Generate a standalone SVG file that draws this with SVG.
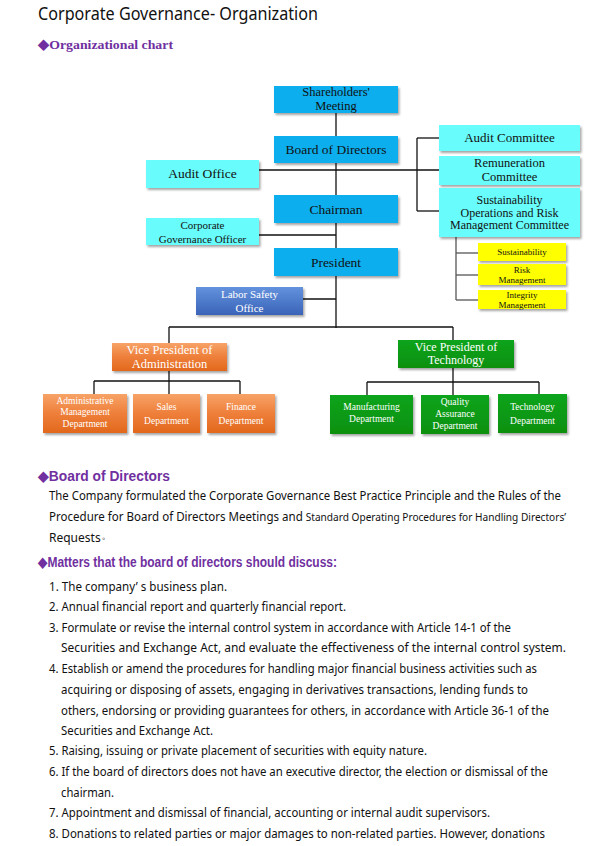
<svg xmlns="http://www.w3.org/2000/svg" width="600" height="846" viewBox="0 0 600 846">
<defs>
<filter id="sh" x="-10%" y="-10%" width="130%" height="140%">
<feDropShadow dx="1.5" dy="2" stdDeviation="1" flood-color="#000" flood-opacity="0.35"/>
</filter>
<linearGradient id="gOr" x1="0" y1="0" x2="0" y2="1"><stop offset="0" stop-color="#F7A367"/><stop offset="0.5" stop-color="#EE7F3A"/><stop offset="1" stop-color="#E2681C"/></linearGradient>
<linearGradient id="gGr" x1="0" y1="0" x2="0" y2="1"><stop offset="0" stop-color="#10A41C"/><stop offset="1" stop-color="#08900F"/></linearGradient>
<linearGradient id="gBl" x1="0" y1="0" x2="0" y2="1"><stop offset="0" stop-color="#6392DD"/><stop offset="1" stop-color="#3A63B8"/></linearGradient>
</defs>
<style>
.sky{fill:#0BAEEE;filter:url(#sh)}
.cy{fill:#69FCFC;filter:url(#sh)}
.ye{fill:#FFFF00;filter:url(#sh)}
.or{fill:url(#gOr);filter:url(#sh)}
.gr{fill:url(#gGr);filter:url(#sh)}
.bl{fill:url(#gBl);filter:url(#sh)}
.t{font-family:"Liberation Serif","Times New Roman",serif;text-anchor:middle;fill:#111}
.w{fill:#fff}
.c line{stroke:#111;stroke-width:1.3}
.c .g{stroke:#555}
.body{font-family:"Noto Sans","Open Sans",sans-serif;font-size:12px;fill:#111}
.hd{font-family:"Liberation Sans",Arial,sans-serif;font-weight:bold;fill:#7030A0}
</style>
<rect width="600" height="846" fill="#fff"/>
<text x="38" y="20" font-family="Noto Sans, Open Sans, sans-serif" font-size="18" fill="#111" textLength="280" lengthAdjust="spacingAndGlyphs">Corporate Governance- Organization</text>
<text x="38" y="49" font-family="Liberation Serif, serif" font-weight="bold" font-size="13.5" fill="#7030A0" textLength="135" lengthAdjust="spacingAndGlyphs">◆Organizational chart</text>

<g class="c" id="connectors">
<line x1="336" y1="113" x2="336" y2="328"/>
<line x1="259" y1="170" x2="440" y2="170"/>
<line x1="417" y1="138" x2="417" y2="211"/>
<line x1="417" y1="138" x2="440" y2="138"/>
<line x1="417" y1="211" x2="440" y2="211"/>
<line x1="259" y1="235" x2="336" y2="235"/>
<line x1="303" y1="299" x2="336" y2="299"/>
<line x1="169" y1="327" x2="453" y2="327"/>
<line x1="169" y1="327" x2="169" y2="343"/>
<line x1="453" y1="327" x2="453" y2="341"/>
<line x1="169" y1="371" x2="169" y2="394"/>
<line x1="94" y1="381" x2="240" y2="381"/>
<line x1="94" y1="381" x2="94" y2="394"/>
<line x1="240" y1="381" x2="240" y2="394"/>
<line x1="453" y1="368" x2="453" y2="395"/>
<line x1="367" y1="382" x2="539" y2="382"/>
<line x1="367" y1="382" x2="367" y2="395"/>
<line x1="539" y1="382" x2="539" y2="395"/>
<line class="g" x1="456" y1="237" x2="456" y2="300"/>
<line class="g" x1="456" y1="253" x2="478" y2="253"/>
<line class="g" x1="456" y1="275" x2="478" y2="275"/>
<line class="g" x1="456" y1="300" x2="478" y2="300"/>
</g>

<g id="shareholders"><rect class="sky" x="274" y="86" width="124" height="27"/>
<text class="t" font-size="12.5"><tspan x="336" y="96">Shareholders'</tspan><tspan x="336" y="110">Meeting</tspan></text></g>
<g id="board"><rect class="sky" x="274" y="136" width="124" height="27"/>
<text class="t" font-size="13.5" x="336" y="154">Board of Directors</text></g>
<g id="audit-office"><rect class="cy" x="146" y="160" width="113" height="28"/>
<text class="t" font-size="13.5" x="202.5" y="178">Audit Office</text></g>
<g id="chairman"><rect class="sky" x="274" y="195" width="124" height="28"/>
<text class="t" font-size="13.5" x="336" y="214">Chairman</text></g>
<g id="cgo"><rect class="cy" x="146" y="218" width="113" height="27"/>
<text class="t" font-size="11"><tspan x="202.5" y="229">Corporate</tspan><tspan x="202.5" y="243">Governance  Officer</tspan></text></g>
<g id="president"><rect class="sky" x="274" y="248" width="124" height="28"/>
<text class="t" font-size="13.5" x="336" y="267">President</text></g>
<g id="labor-safety"><rect class="bl" x="196" y="287" width="107" height="28"/>
<text class="t w" font-size="11"><tspan x="249.5" y="298">Labor Safety</tspan><tspan x="249.5" y="312">Office</tspan></text></g>

<g id="audit-committee"><rect class="cy" x="439" y="125" width="141" height="26"/>
<text class="t" font-size="13" x="509.5" y="142">Audit Committee</text></g>
<g id="remuneration"><rect class="cy" x="439" y="156" width="141" height="29"/>
<text class="t" font-size="12.5"><tspan x="509.5" y="167">Remuneration</tspan><tspan x="509.5" y="181">Committee</tspan></text></g>
<g id="sustain-committee"><rect class="cy" x="439" y="188" width="141" height="49"/>
<text class="t" font-size="12"><tspan x="509.5" y="204">Sustainability</tspan><tspan x="509.5" y="216.5">Operations and Risk</tspan><tspan x="509.5" y="229">Management  Committee</tspan></text></g>
<g id="sustainability"><rect class="ye" x="478" y="243" width="88" height="18"/>
<text class="t" font-size="9" x="522" y="255">Sustainability</text></g>
<g id="risk"><rect class="ye" x="478" y="264" width="88" height="21"/>
<text class="t" font-size="9"><tspan x="522" y="272.5">Risk</tspan><tspan x="522" y="283">Management</tspan></text></g>
<g id="integrity"><rect class="ye" x="478" y="290" width="88" height="19"/>
<text class="t" font-size="9"><tspan x="522" y="297.5">Integrity</tspan><tspan x="522" y="308">Management</tspan></text></g>

<g id="vp-admin"><rect class="or" x="112" y="343" width="115" height="28"/>
<text class="t w" font-size="12.5"><tspan x="169.5" y="354">Vice President of</tspan><tspan x="169.5" y="368">Administration</tspan></text></g>
<g id="vp-tech"><rect class="gr" x="398" y="340" width="116" height="28"/>
<text class="t w" font-size="12"><tspan x="456" y="351">Vice President of</tspan><tspan x="456" y="363.5">Technology</tspan></text></g>

<g id="admin-mgmt"><rect class="or" x="43" y="394" width="84" height="39"/>
<text class="t w" font-size="9.5"><tspan x="85" y="403.5">Administrative</tspan><tspan x="85" y="415">Management</tspan><tspan x="85" y="426.5">Department</tspan></text></g>
<g id="sales"><rect class="or" x="133" y="394" width="67" height="39"/>
<text class="t w" font-size="9.5"><tspan x="166.5" y="410">Sales</tspan><tspan x="166.5" y="424">Department</tspan></text></g>
<g id="finance"><rect class="or" x="207" y="394" width="68" height="39"/>
<text class="t w" font-size="9.5"><tspan x="241" y="410">Finance</tspan><tspan x="241" y="424">Department</tspan></text></g>
<g id="manufacturing"><rect class="gr" x="330" y="395" width="83" height="39"/>
<text class="t w" font-size="9.5"><tspan x="371.5" y="410">Manufacturing</tspan><tspan x="371.5" y="422">Department</tspan></text></g>
<g id="qa"><rect class="gr" x="421" y="395" width="68" height="39"/>
<text class="t w" font-size="9.5"><tspan x="455" y="405">Quality</tspan><tspan x="455" y="417">Assurance</tspan><tspan x="455" y="428.5">Department</tspan></text></g>
<g id="technology"><rect class="gr" x="498" y="394" width="69" height="39"/>
<text class="t w" font-size="9.5"><tspan x="532.5" y="410">Technology</tspan><tspan x="532.5" y="424">Department</tspan></text></g>

<text class="hd" x="38" y="481" font-size="14" textLength="132" lengthAdjust="spacingAndGlyphs">◆Board of Directors</text>
<text class="body" x="49" y="500" textLength="512" lengthAdjust="spacingAndGlyphs">The Company formulated the Corporate Governance Best Practice Principle and the Rules of the</text>
<text class="body" x="49" y="521" textLength="517" lengthAdjust="spacingAndGlyphs">Procedure for Board of Directors Meetings and <tspan font-size="10.5">Standard Operating Procedures for Handling Directors’</tspan></text>
<text class="body" x="49" y="542" font-size="10.5">Requests<tspan font-family="Noto Sans CJK SC, sans-serif" font-size="7" dy="-3"> 。</tspan></text>
<text class="hd" x="38" y="567" font-size="14" textLength="299" lengthAdjust="spacingAndGlyphs">◆Matters that the board of directors should discuss:</text>
<g class="body">
<text x="49" y="591" textLength="178" lengthAdjust="spacingAndGlyphs">1. The company’  s business plan.</text>
<text x="49" y="611" textLength="297" lengthAdjust="spacingAndGlyphs">2. Annual financial report and quarterly financial report.</text>
<text x="49" y="632" textLength="462" lengthAdjust="spacingAndGlyphs">3. Formulate or revise the internal control system in accordance with Article 14-1 of the</text>
<text x="61" y="652" textLength="505" lengthAdjust="spacingAndGlyphs">Securities and Exchange Act, and evaluate the effectiveness of the internal control system.</text>
<text x="49" y="673" textLength="488" lengthAdjust="spacingAndGlyphs">4. Establish or amend the procedures for handling major financial business activities such as</text>
<text x="61" y="694" textLength="467" lengthAdjust="spacingAndGlyphs">acquiring or disposing of assets, engaging in derivatives transactions, lending funds to</text>
<text x="61" y="715" textLength="488" lengthAdjust="spacingAndGlyphs">others, endorsing or providing guarantees for others, in accordance with Article 36-1 of the</text>
<text x="61" y="735" textLength="152" lengthAdjust="spacingAndGlyphs">Securities and Exchange Act.</text>
<text x="49" y="755" textLength="378" lengthAdjust="spacingAndGlyphs">5. Raising, issuing or private placement of securities with equity nature.</text>
<text x="49" y="776" textLength="499" lengthAdjust="spacingAndGlyphs">6. If the board of directors does not have an executive director, the election or dismissal of the</text>
<text x="61" y="797" textLength="53" lengthAdjust="spacingAndGlyphs">chairman.</text>
<text x="49" y="817" textLength="441" lengthAdjust="spacingAndGlyphs">7. Appointment and dismissal of financial, accounting or internal audit supervisors.</text>
<text x="49" y="838" textLength="496" lengthAdjust="spacingAndGlyphs">8. Donations to related parties or major damages to non-related parties. However, donations</text>
</g>
</svg>
